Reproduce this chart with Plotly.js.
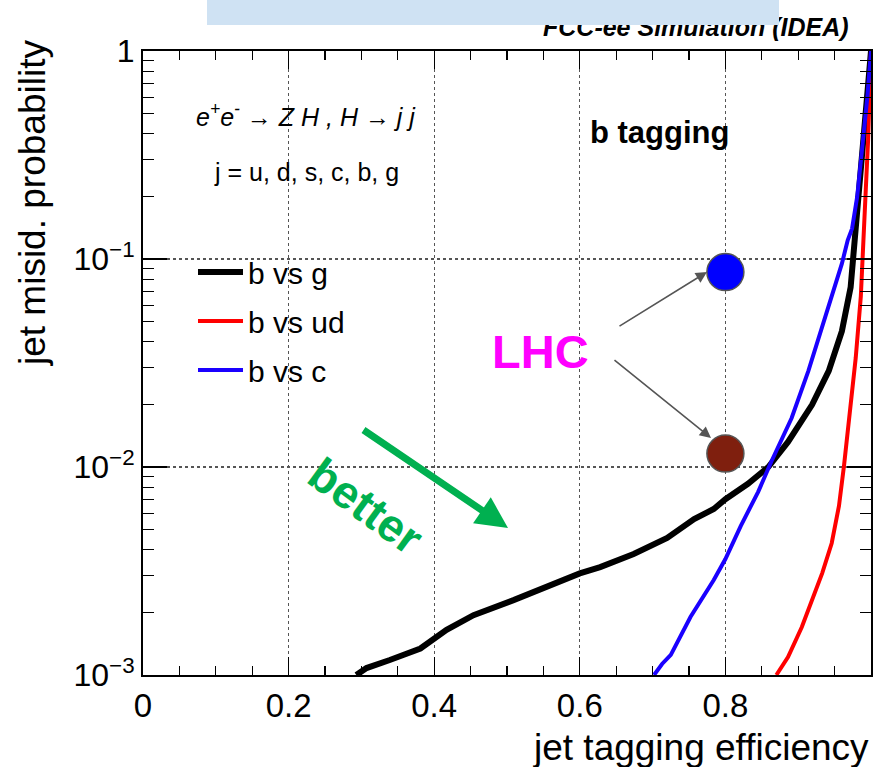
<!DOCTYPE html>
<html>
<head>
<meta charset="utf-8">
<script src="https://cdn.plot.ly/plotly-3.0.1.min.js"></script>
<style>
  html, body { margin: 0; padding: 0; background: #ffffff; }
  #chart { width: 879px; height: 767px; }
</style>
</head>
<body>
<div id="chart"></div>
<script>
// b-tagging ROC curves: jet tagging efficiency vs. jet misidentification probability
const effBvsG = [0.293, 0.307, 0.339, 0.381, 0.417, 0.454, 0.509, 0.555, 0.600, 0.628, 0.674, 0.720, 0.757, 0.784, 0.800, 0.831, 0.859, 0.886, 0.919, 0.942, 0.960, 0.972, 0.978, 0.984, 0.990, 0.995, 1.0];
const misBvsG = [1.0e-3, 1.08e-3, 1.18e-3, 1.34e-3, 1.65e-3, 1.94e-3, 2.29e-3, 2.66e-3, 3.08e-3, 3.3e-3, 3.82e-3, 4.56e-3, 5.62e-3, 6.28e-3, 7.0e-3, 8.3e-3, 1.0e-2, 1.32e-2, 1.99e-2, 2.9e-2, 4.5e-2, 7.3e-2, 0.13, 0.2, 0.37, 0.6, 1.0];

const effBvsUD = [0.870, 0.886, 0.905, 0.919, 0.933, 0.946, 0.956, 0.963, 0.970, 0.979, 0.986, 0.990, 0.993, 0.996, 1.0];
const misBvsUD = [1.0e-3, 1.22e-3, 1.70e-3, 2.29e-3, 3.09e-3, 4.3e-3, 6.5e-3, 1.02e-2, 1.72e-2, 3.34e-2, 6.6e-2, 0.123, 0.199, 0.373, 1.0];

const effBvsC = [0.702, 0.713, 0.725, 0.752, 0.784, 0.800, 0.821, 0.845, 0.863, 0.891, 0.914, 0.937, 0.960, 0.968, 0.974, 0.981, 0.989, 0.995, 1.0];
const misBvsC = [1.0e-3, 1.13e-3, 1.25e-3, 1.90e-3, 2.86e-3, 3.61e-3, 5.2e-3, 7.6e-3, 1.06e-2, 1.72e-2, 2.9e-2, 5.3e-2, 9.5e-2, 0.123, 0.14, 0.199, 0.373, 0.6, 1.0];

// LHC reference working points (b vs c, b vs light)
const lhcEff = [0.80, 0.80];
const lhcMis = [0.0865, 0.0116];
const lhcColors = ['#0000ff', '#7f1f0e'];

const seriesNames = ['b vs g', 'b vs ud', 'b vs c'];
const yTickVals = [0.001, 0.01, 0.1, 1];
const yTickText = ['10<sup>\u22123</sup>', '10<sup>\u22122</sup>', '10<sup>\u22121</sup>', '1'];

const FONT = 'Liberation Sans, Arial, Helvetica, sans-serif';

const traces = [
  { x: effBvsG, y: misBvsG, name: seriesNames[0], mode: 'lines', line: { color: '#000000', width: 6 }, legendgroup: 'g', legendrank: 1 },
  { x: effBvsUD, y: misBvsUD, name: seriesNames[1], mode: 'lines', line: { color: '#ff0000', width: 4 }, legendgroup: 'ud', legendrank: 2 },
  { x: effBvsC, y: misBvsC, name: seriesNames[2], mode: 'lines', line: { color: '#1a00ff', width: 4 }, legendgroup: 'c', legendrank: 3 },
  { x: lhcEff, y: lhcMis, mode: 'markers', showlegend: false, cliponaxis: false,
    marker: { size: 37, color: lhcColors, line: { color: '#555555', width: 1.5 } } }
];

// helpers: pixel position on page -> paper fraction
const L = 143, R = 871, T = 51, B = 675;
const px = v => (v - L) / (R - L);
const py = v => (B - v) / (B - T);

const layout = {
  width: 879, height: 767,
  margin: { l: L, r: 879 - R, t: T, b: 767 - B },
  paper_bgcolor: '#ffffff', plot_bgcolor: '#ffffff',
  font: { family: FONT, color: '#000000' },
  showlegend: true,
  legend: {
    x: px(193), y: py(246), xanchor: 'left', yanchor: 'top',
    bgcolor: 'rgba(0,0,0,0)', borderwidth: 0,
    font: { family: FONT, size: 30, color: '#000000' },
    traceorder: 'grouped', tracegroupgap: 7, itemwidth: 45
  },
  xaxis: {
    range: [0, 1], dtick: 0.2, tick0: 0,
    showline: true, linecolor: '#000000', linewidth: 2, mirror: 'allticks',
    ticks: 'inside', ticklen: 18, tickwidth: 1.3, tickcolor: '#000000',
    showgrid: true, gridcolor: '#555555', griddash: 'dot', gridwidth: 1.2,
    zeroline: false,
    tickfont: { family: FONT, size: 33, color: '#000000' },
    minor: { dtick: 0.05, ticks: 'inside', ticklen: 9, tickwidth: 1.2, tickcolor: '#000000', showgrid: false }
  },
  yaxis: {
    type: 'log', range: [-3, 0],
    tickmode: 'array', tickvals: yTickVals, ticktext: yTickText,
    showline: true, linecolor: '#000000', linewidth: 2, mirror: 'allticks',
    ticks: 'inside', ticklen: 24, tickwidth: 1.3, tickcolor: '#000000',
    showgrid: true, gridcolor: '#555555', griddash: 'dot', gridwidth: 1.2,
    zeroline: false,
    tickfont: { family: FONT, size: 32, color: '#000000' },
    minor: { dtick: 'D1', ticks: 'inside', ticklen: 11, tickwidth: 1.2, tickcolor: '#000000', showgrid: false }
  },
  annotations: [
    // axis titles
    { xref: 'paper', yref: 'paper', x: px(871), y: py(747), xanchor: 'right', yanchor: 'middle',
      text: 'jet tagging efficiency', showarrow: false, font: { family: FONT, size: 37, color: '#000000' } },
    { xref: 'paper', yref: 'paper', x: px(32), y: py(38), xanchor: 'center', yanchor: 'top', textangle: -90,
      text: 'jet misid. probability', showarrow: false, font: { family: FONT, size: 37, color: '#000000' } },
    // experiment label with banner across it
    { xref: 'paper', yref: 'paper', x: px(851), y: py(27), xanchor: 'right', yanchor: 'middle',
      text: '<b><i>FCC-ee Simulation (IDEA)</i></b>', showarrow: false,
      font: { family: FONT, size: 25, color: '#000000' } },
    { xref: 'paper', yref: 'paper', x: px(207), y: py(0), xanchor: 'left', yanchor: 'top',
      text: ' ', showarrow: false, width: 572, height: 25, borderpad: 0, borderwidth: 0,
      bgcolor: '#cfe2f3' },
    // process labels
    { xref: 'paper', yref: 'paper', x: px(306), y: py(115), xanchor: 'center', yanchor: 'middle',
      text: '<i>e<sup>+</sup>e<sup>-</sup> \u2192 Z H , H \u2192 j j</i>', showarrow: false,
      font: { family: FONT, size: 25, color: '#000000' } },
    { xref: 'paper', yref: 'paper', x: px(306), y: py(172), xanchor: 'center', yanchor: 'middle',
      text: 'j = u, d, s, c, b, g', showarrow: false,
      font: { family: FONT, size: 25, color: '#000000' } },
    { xref: 'paper', yref: 'paper', x: px(659), y: py(132), xanchor: 'center', yanchor: 'middle',
      text: '<b>b tagging</b>', showarrow: false,
      font: { family: FONT, size: 31, color: '#000000' } },
    // LHC label and pointers
    { xref: 'paper', yref: 'paper', x: px(540), y: py(351), xanchor: 'center', yanchor: 'middle',
      text: '<b>LHC</b>', showarrow: false,
      font: { family: FONT, size: 47, color: '#ff00ff' } },
    { xref: 'paper', yref: 'paper', x: px(707), y: py(272), text: '', showarrow: true,
      ax: 618 - 707, ay: 327 - 272, arrowhead: 2, arrowsize: 1.4, arrowwidth: 1.6, arrowcolor: '#555555', standoff: 0, startstandoff: 0 },
    { xref: 'paper', yref: 'paper', x: px(711), y: py(438), text: '', showarrow: true,
      ax: 613 - 711, ay: 359 - 438, arrowhead: 2, arrowsize: 1.4, arrowwidth: 1.6, arrowcolor: '#555555', standoff: 0, startstandoff: 0 },
    // "better" direction
    { xref: 'paper', yref: 'paper', x: px(508), y: py(528), text: '', showarrow: true,
      ax: 362 - 508, ay: 429 - 528, arrowhead: 2, arrowsize: 0.9, arrowwidth: 7, arrowcolor: '#00b050', standoff: 0 },
    { xref: 'paper', yref: 'paper', x: px(366), y: py(506), xanchor: 'center', yanchor: 'middle', textangle: 36,
      text: '<b>better</b>', showarrow: false,
      font: { family: FONT, size: 46, color: '#00b050' } }
  ]
};

Plotly.newPlot('chart', traces, layout, { displayModeBar: false, staticPlot: true });
</script>
</body>
</html>
